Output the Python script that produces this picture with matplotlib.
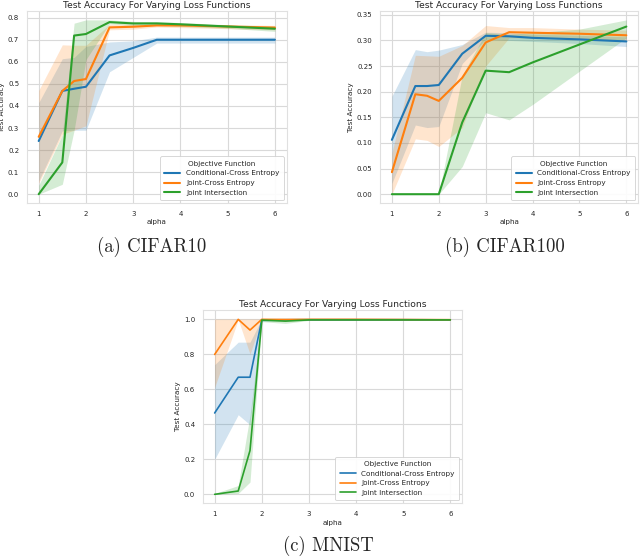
import matplotlib
matplotlib.use('Agg')
import matplotlib.pyplot as plt
import seaborn as sns

# ── DATA ──
ALPHA = [1, 1.5, 1.75, 2, 2.5, 3, 3.5, 4, 5, 6]
LABELS = ['Conditional-Cross Entropy', 'Joint-Cross Entropy', 'Joint Intersection']
COLORS = ['#1f77b4', '#ff7f0e', '#2ca02c']

# CIFAR10
c10_cond = [0.241, 0.468, 0.478, 0.487, 0.629, 0.663, 0.700, 0.700, 0.700, 0.700]
c10_cond_lo = [0.06, 0.287, 0.29, 0.29, 0.555, 0.62, 0.685, 0.685, 0.685, 0.685]
c10_cond_hi = [0.415, 0.614, 0.62, 0.67, 0.69, 0.695, 0.712, 0.712, 0.712, 0.712]
c10_joint = [0.26, 0.468, 0.513, 0.522, 0.756, 0.759, 0.765, 0.765, 0.760, 0.755]
c10_joint_lo = [0.05, 0.272, 0.29, 0.31, 0.745, 0.748, 0.758, 0.755, 0.750, 0.745]
c10_joint_hi = [0.47, 0.677, 0.675, 0.675, 0.77, 0.77, 0.772, 0.772, 0.768, 0.765]
c10_inter = [0.0, 0.144, 0.719, 0.726, 0.780, 0.774, 0.774, 0.770, 0.760, 0.750]
c10_inter_lo = [0.0, 0.045, 0.29, 0.61, 0.772, 0.765, 0.765, 0.76, 0.752, 0.738]
c10_inter_hi = [0.04, 0.27, 0.775, 0.79, 0.79, 0.783, 0.782, 0.778, 0.768, 0.762]

# CIFAR100
c100_cond = [0.106, 0.211, 0.211, 0.213, 0.274, 0.309, 0.308, 0.305, 0.302, 0.298]
c100_cond_lo = [0.021, 0.135, 0.13, 0.132, 0.255, 0.302, 0.30, 0.298, 0.294, 0.288]
c100_cond_hi = [0.191, 0.282, 0.278, 0.281, 0.292, 0.316, 0.315, 0.312, 0.31, 0.307]
c100_joint = [0.043, 0.195, 0.192, 0.182, 0.227, 0.296, 0.316, 0.315, 0.313, 0.310]
c100_joint_lo = [0.0, 0.108, 0.105, 0.093, 0.13, 0.25, 0.305, 0.305, 0.303, 0.30]
c100_joint_hi = [0.08, 0.271, 0.27, 0.269, 0.29, 0.329, 0.325, 0.325, 0.322, 0.32]
c100_inter = [0.0, 0.0, 0.0, 0.0, 0.14, 0.241, 0.238, 0.257, 0.292, 0.327]
c100_inter_lo = [0.0, 0.0, 0.0, 0.0, 0.054, 0.159, 0.145, 0.175, 0.24, 0.305]
c100_inter_hi = [0.0, 0.0, 0.0, 0.0, 0.232, 0.315, 0.312, 0.315, 0.322, 0.34]

# MNIST
mn_cond = [0.464, 0.668, 0.668, 0.995, 0.996, 0.996, 0.996, 0.996, 0.996, 0.995]
mn_cond_lo = [0.2, 0.454, 0.397, 0.985, 0.993, 0.993, 0.993, 0.993, 0.993, 0.993]
mn_cond_hi = [0.74, 0.868, 0.868, 1.0, 0.999, 0.999, 0.999, 0.999, 0.999, 0.998]
mn_joint = [0.798, 0.998, 0.937, 0.998, 0.997, 0.998, 0.998, 0.998, 0.997, 0.996]
mn_joint_lo = [0.61, 0.996, 0.80, 0.996, 0.993, 0.996, 0.996, 0.996, 0.995, 0.994]
mn_joint_hi = [1.0, 1.0, 1.0, 1.0, 1.0, 1.0, 1.0, 1.0, 0.999, 0.998]
mn_inter = [0.0, 0.019, 0.25, 0.994, 0.988, 0.995, 0.995, 0.995, 0.995, 0.995]
mn_inter_lo = [0.0, 0.005, 0.07, 0.985, 0.975, 0.992, 0.992, 0.992, 0.992, 0.992]
mn_inter_hi = [0.005, 0.05, 0.45, 1.0, 0.995, 0.998, 0.998, 0.998, 0.998, 0.998]

# caption, axes rect, line width, caption position (figure fraction)
PANELS = [
    ('(a) CIFAR10', [0.042, 0.637, 0.406, 0.343], 1.5, (0.2375, 0.558),
     [(c10_cond, c10_cond_lo, c10_cond_hi),
      (c10_joint, c10_joint_lo, c10_joint_hi),
      (c10_inter, c10_inter_lo, c10_inter_hi)]),
    ('(b) CIFAR100', [0.594, 0.637, 0.403, 0.343], 1.5, (0.789, 0.558),
     [(c100_cond, c100_cond_lo, c100_cond_hi),
      (c100_joint, c100_joint_lo, c100_joint_hi),
      (c100_inter, c100_inter_lo, c100_inter_hi)]),
    ('(c) MNIST', [0.317, 0.100, 0.405, 0.345], 1.2, (0.5125, 0.024),
     [(mn_cond, mn_cond_lo, mn_cond_hi),
      (mn_joint, mn_joint_lo, mn_joint_hi),
      (mn_inter, mn_inter_lo, mn_inter_hi)]),
]

# ── STYLE ──
sns.set_style('whitegrid')
plt.rcParams['font.family'] = ['DejaVu Sans']

fig = plt.figure(figsize=(6.4, 5.59), dpi=100)

for caption, rect, lw, cpos, series in PANELS:
    ax = fig.add_axes(rect)
    for (mean, lo, hi), label, color in zip(series, LABELS, COLORS):
        ax.fill_between(ALPHA, lo, hi, color=color, alpha=0.2, linewidth=0)
        ax.plot(ALPHA, mean, color=color, lw=lw, label=label)
    ax.set_title('Test Accuracy For Varying Loss Functions', fontsize=6.6, pad=2.5)
    ax.set_xlabel('alpha', fontsize=5.2, labelpad=2)
    ax.set_ylabel('Test Accuracy', fontsize=5.2, labelpad=2)
    ax.tick_params(labelsize=5, pad=2)
    ax.grid(True, color='0.85', linewidth=0.8)
    for s in ax.spines.values():
        s.set_color('0.88')
        s.set_linewidth(0.8)
    leg = ax.legend(title='Objective Function', loc='lower right', fontsize=5.2,
                    title_fontsize=5.2, handlelength=2.2, borderpad=0.6,
                    labelspacing=0.5, borderaxespad=0.4, framealpha=0.9)
    leg.get_frame().set_linewidth(0.6)
    # caption under each panel
    fig.text(cpos[0], cpos[1], caption, fontfamily='cmr10', fontsize=13.5,
             ha='center', va='center')

fig.savefig('out.png', dpi=100)
